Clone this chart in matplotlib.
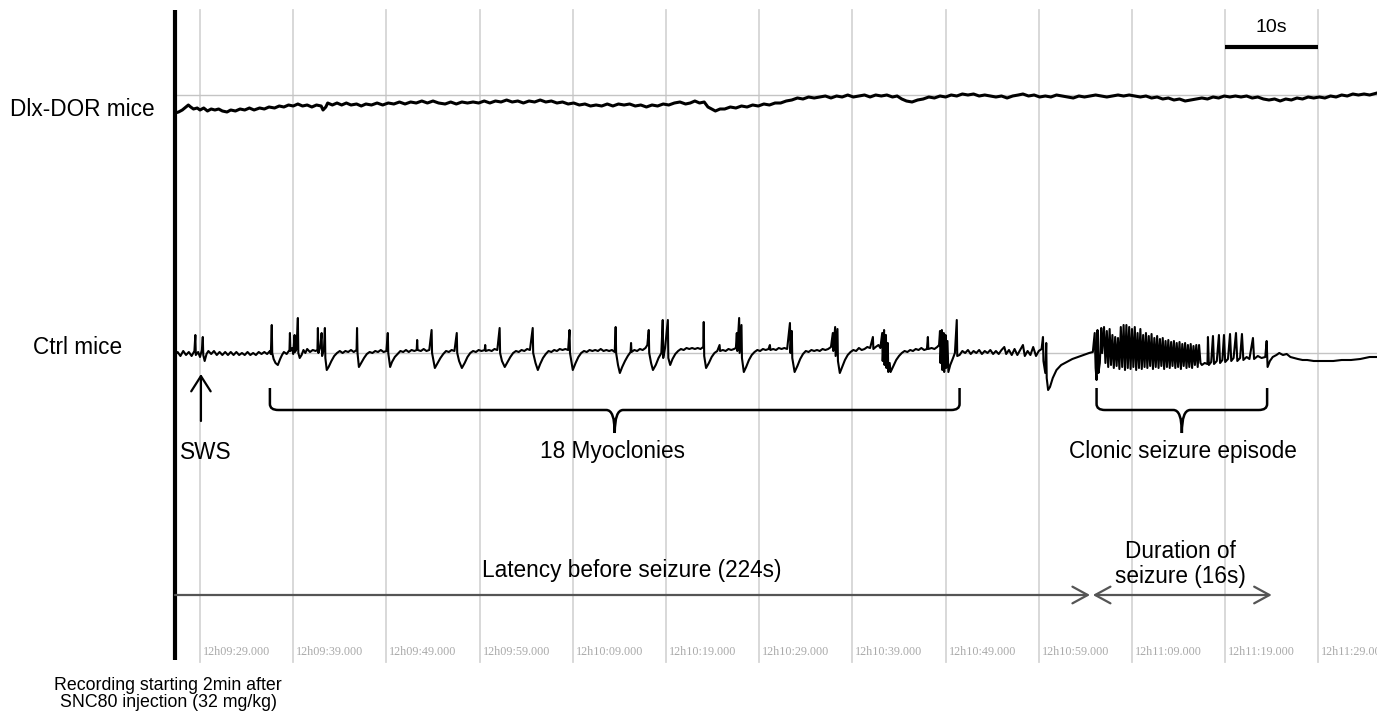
import numpy as np
import matplotlib
matplotlib.use("Agg")
import matplotlib.pyplot as plt
from matplotlib.path import Path
from matplotlib.patches import PathPatch

# time in seconds from 12h09:29.000, amplitude in trace units
dlx_points = [
    (-2.68, -18), (-2.3, -17), (-1.9, -15), (-1.5, -12), (-1.25, -10), (-1.0, -12), (-0.7, -14), (-0.3, -13),
    (0.0, -15), (0.4, -13), (0.8, -16), (1.2, -14), (1.6, -15), (2.0, -14), (2.4, -16), (2.9, -17), (3.3, -15),
    (3.8, -16), (4.3, -14), (4.8, -15), (5.3, -13), (5.8, -15), (6.4, -13), (6.9, -14), (7.4, -12), (8.0, -13),
    (8.5, -11), (9.0, -12), (9.5, -10), (10.0, -11), (10.5, -9), (11.0, -11), (11.5, -10), (12.0, -12),
    (12.5, -10), (13.0, -11), (13.2, -15), (13.5, -12), (13.7, -8), (14.2, -10), (14.7, -8), (15.2, -10),
    (15.7, -8), (16.2, -10), (16.8, -9), (17.3, -11), (17.8, -9), (18.4, -10), (19.0, -8), (19.6, -10),
    (20.2, -8), (20.8, -9), (21.4, -7), (22.0, -9), (22.6, -7), (23.2, -8), (23.8, -6), (24.4, -8), (25.0, -6),
    (25.6, -8), (26.3, -9), (26.9, -7), (27.5, -9), (28.1, -7), (28.7, -8), (29.3, -7), (29.9, -8), (30.5, -6),
    (31.1, -8), (31.7, -6), (32.3, -7), (32.9, -5), (33.5, -7), (34.1, -6), (34.7, -8), (35.3, -6), (35.9, -7),
    (36.5, -5), (37.1, -7), (37.7, -6), (38.3, -8), (38.9, -7), (39.5, -9), (40.1, -8), (40.7, -10), (41.3, -9),
    (41.9, -11), (42.5, -10), (43.1, -11), (43.7, -9), (44.3, -11), (44.9, -9), (45.5, -10), (46.1, -9),
    (46.7, -11), (47.3, -10), (47.9, -12), (48.5, -10), (49.1, -11), (49.7, -9), (50.3, -10), (50.9, -8),
    (51.5, -7), (52.1, -9), (52.6, -8), (53.1, -6), (53.6, -8), (54.1, -7), (54.5, -12), (54.9, -14),
    (55.3, -16), (55.8, -14), (56.3, -14), (56.9, -12), (57.5, -13), (58.1, -11), (58.7, -12), (59.3, -10),
    (59.9, -11), (60.5, -9), (61.1, -10), (61.7, -8), (62.3, -8), (62.9, -6), (63.5, -5), (64.1, -3),
    (64.7, -4), (65.3, -2), (65.9, -3), (66.5, -2), (67.1, -1), (67.7, -3), (68.3, -1), (68.9, -2), (69.5, 0),
    (70.1, -2), (70.7, -1), (71.3, 0), (71.9, -2), (72.5, 0), (73.1, -1), (73.7, 0), (74.3, -2), (74.8, -1),
    (75.3, -4), (75.8, -6), (76.4, -7), (77.0, -5), (77.6, -4), (78.2, -2), (78.8, -3), (79.4, -1), (80.0, -2),
    (80.6, 0), (81.2, -1), (81.8, 1), (82.4, 0), (83.0, 1), (83.6, -1), (84.2, 0), (84.8, -1), (85.4, -2),
    (86.0, -1), (86.6, -3), (87.2, -1), (87.8, 0), (88.3, 1), (88.9, -1), (89.5, 0), (90.1, -2), (90.7, -1),
    (91.3, -2), (91.9, 0), (92.5, -1), (93.1, -2), (93.7, -3), (94.3, -1), (94.9, -2), (95.5, -1), (96.1, 0),
    (96.7, -1), (97.3, -2), (97.9, -1), (98.5, 0), (99.1, -1), (99.7, 0), (100.3, -1), (100.9, -2), (101.5, -1),
    (102.1, -3), (102.7, -2), (103.3, -4), (103.9, -3), (104.5, -5), (105.1, -4), (105.7, -6), (106.3, -5),
    (106.9, -4), (107.5, -3), (108.1, -4), (108.7, -2), (109.3, -3), (109.9, -1), (110.5, -2), (111.1, -1),
    (111.7, -2), (112.3, -1), (112.9, -3), (113.5, -2), (114.1, -4), (114.7, -5), (115.3, -4), (115.9, -6),
    (116.5, -4), (117.1, -5), (117.7, -3), (118.3, -4), (118.9, -2), (119.5, -3), (120.1, -2), (120.7, -3),
    (121.3, -1), (121.9, -2), (122.5, 0), (123.1, -1), (123.7, 1), (124.3, 0), (124.9, 1), (125.5, 0), (126.3, 2),
]

ctrl_points = [
    # slow wave sleep
    (-2.68, -2), (-2.4, 1), (-2.1, -3), (-1.8, 2), (-1.5, -2), (-1.2, 1), (-0.9, -3), (-0.6, 2), (-0.5, 18),
    (-0.45, -2), (-0.2, 1), (0.0, -4), (0.2, 3), (0.3, 16), (0.35, -2), (0.5, -8), (0.7, -1), (0.9, 2),
    (1.2, -1), (1.5, 2), (1.8, -2), (2.1, 1), (2.4, -2), (2.7, 1), (3.0, -2), (3.3, 1), (3.6, -2), (3.9, 1),
    (4.2, -2), (4.5, 0), (4.8, -2), (5.1, 1), (5.4, -2), (5.7, 0), (6.0, -2), (6.3, 1), (6.6, -1), (6.9, 1),
    (7.2, -1), (7.5, 2),
    # myoclonies
    (7.6, -1), (7.7, 28), (7.75, 0), (7.9, -6), (8.1, -10), (8.35, -12), (8.6, -6), (8.8, -2), (9.0, 1),
    (9.3, -1), (9.6, 3), (9.65, 20), (9.7, 2), (9.9, 5), (10.0, -1), (10.15, 18), (10.2, 1), (10.35, 4),
    (10.5, 35), (10.55, 0), (10.7, -5), (10.9, -2), (11.1, 3), (11.3, 0), (11.5, 4), (11.8, 1), (12.1, 3),
    (12.4, 2), (12.6, 3), (12.65, 25), (12.7, 0), (12.9, 6), (13.05, 20), (13.1, -3), (13.3, 4), (13.4, 25),
    (13.45, -5), (13.6, -17), (13.8, -14), (14.1, -8), (14.4, -3), (14.7, 0), (15.0, 2), (15.3, 0), (15.6, 2),
    (15.9, 1), (16.2, 3), (16.5, 1), (16.8, 3), (16.85, 25), (16.9, 0), (17.05, -14), (17.3, -10), (17.6, -5),
    (17.9, -1), (18.2, 1), (18.5, 0), (18.8, 2), (19.1, 1), (19.4, 3), (19.7, 1), (20.0, 2), (20.15, 20),
    (20.2, 0), (20.4, -14), (20.6, -9), (20.9, -4), (21.2, -1), (21.5, 2), (21.8, 1), (22.1, 3), (22.4, 1),
    (22.7, 3), (23.0, 2), (23.25, 3), (23.3, 13), (23.35, 3), (23.7, 2), (24.0, 4), (24.3, 2), (24.6, 3),
    (24.85, 23), (24.9, 0), (25.2, -15), (25.5, -10), (25.8, -5), (26.1, -1), (26.4, 2), (26.7, 1), (27.0, 3),
    (27.3, 2), (27.55, 20), (27.6, 0), (27.8, -8), (28.1, -15), (28.4, -10), (28.7, -4), (29.0, 0), (29.3, 2),
    (29.6, 1), (29.9, 3), (30.2, 2), (30.55, 3), (30.6, 8), (30.65, 2), (31.0, 3), (31.3, 2), (31.6, 4),
    (31.9, 3), (32.15, 25), (32.2, 0), (32.4, -8), (32.7, -14), (33.0, -9), (33.3, -4), (33.6, 0), (33.9, 2),
    (34.2, 1), (34.5, 3), (34.8, 2), (35.1, 4), (35.4, 3), (35.7, 25), (35.75, 0), (36.0, -10), (36.25, -17),
    (36.5, -11), (36.8, -5), (37.1, -1), (37.4, 2), (37.7, 1), (38.0, 3), (38.3, 2), (38.6, 4), (38.9, 3),
    (39.2, 4), (39.5, 3), (39.65, 23), (39.7, 0), (40.0, -17), (40.3, -10), (40.6, -4), (40.9, 0), (41.2, 2),
    (41.5, 1), (41.8, 3), (42.1, 2), (42.4, 3), (42.7, 2), (43.0, 4), (43.3, 2), (43.6, 3), (43.9, 2),
    (44.2, 3), (44.5, 1), (44.6, 26), (44.65, 0), (44.85, -12), (45.05, -20), (45.3, -14), (45.6, -8),
    (45.9, -3), (46.2, 1), (46.25, 10), (46.3, 1), (46.6, 3), (46.9, 2), (47.2, 4), (47.5, 3), (47.8, 5),
    (48.0, 8), (48.15, 23), (48.2, 0), (48.4, -10), (48.6, -17), (48.9, -12), (49.2, -5), (49.5, 0),
    (49.65, 33), (49.7, -5), (49.9, 5), (50.2, 33), (50.25, -5), (50.45, -12), (50.7, -6), (51.0, -1),
    (51.3, 2), (51.6, 4), (51.9, 3), (52.2, 5), (52.5, 4), (52.8, 5), (53.1, 4), (53.4, 5), (53.7, 4),
    (54.0, 6), (54.05, 31), (54.1, -3), (54.3, -15), (54.6, -10), (54.9, -4), (55.2, 0), (55.5, 2),
    (55.75, 8), (55.8, 2), (56.1, 3), (56.4, 2), (56.7, 4), (57.0, 3), (57.3, 4), (57.5, 5), (57.6, 20),
    (57.65, 2), (57.85, 35), (57.9, 0), (58.1, 28), (58.15, -5), (58.35, -19), (58.6, -14), (58.9, -7),
    (59.2, -2), (59.5, 1), (59.8, 3), (60.1, 2), (60.4, 4), (60.7, 3), (61.0, 4), (61.15, 8), (61.2, 3),
    (61.5, 4), (61.8, 3), (62.1, 5), (62.4, 4), (62.7, 5), (63.0, 4), (63.3, 30), (63.35, 0), (63.5, 22),
    (63.55, -5), (63.8, -19), (64.1, -13), (64.4, -6), (64.7, -1), (65.0, 2), (65.3, 1), (65.6, 3), (65.9, 2),
    (66.2, 3), (66.5, 2), (66.8, 4), (67.1, 3), (67.4, 4), (67.7, 6), (67.9, 20), (67.95, 2), (68.15, 26),
    (68.2, -3), (68.4, 24), (68.45, -8), (68.65, -20), (68.9, -14), (69.2, -7), (69.5, -2), (69.8, 1),
    (70.1, 3), (70.4, 2), (70.7, 5), (71.0, 3), (71.3, 4), (71.6, 6), (71.9, 5), (72.2, 16), (72.25, 4),
    (72.5, 6), (72.8, 8), (73.0, 5), (73.2, 20), (73.25, -8), (73.4, 23), (73.45, -12), (73.6, 18),
    (73.65, -15), (73.8, 10), (73.85, -19), (74.0, -10), (74.1, -19), (74.4, -13), (74.7, -7), (75.0, -3),
    (75.3, 0), (75.6, 2), (75.9, 1), (76.2, 3), (76.5, 2), (76.8, 4), (77.1, 3), (77.4, 5), (77.7, 3),
    (78.0, 4), (78.1, 16), (78.15, 4), (78.5, 5), (78.8, 4), (79.1, 6), (79.3, 8), (79.4, 22), (79.45, -10),
    (79.6, 23), (79.65, -17), (79.8, 20), (79.85, -19), (80.0, 18), (80.05, -15), (80.2, 12), (80.3, -19),
    (80.5, -12), (80.8, -5), (81.0, 0), (81.2, 33), (81.25, -3), (81.5, -2), (81.8, 2), (82.1, 0), (82.4, 3),
    (82.7, -1), (83.0, 2), (83.3, 0), (83.6, 3), (83.9, -1), (84.2, 2), (84.5, 0), (84.8, 3), (85.1, -1),
    (85.4, 2), (85.7, -1), (86.0, 3), (86.3, 6), (86.5, -1), (86.8, 3), (87.1, -2), (87.4, 4), (87.7, -2),
    (88.0, 3), (88.3, 8), (88.5, -3), (88.8, 2), (89.1, -2), (89.4, 6), (89.7, -3), (90.0, 2), (90.3, 4),
    (90.45, 16), (90.5, -8), (90.7, -20), (90.8, 10), (90.85, -25), (91.0, -37), (91.2, -34), (91.5, -25),
    (91.9, -17), (92.4, -12), (93.0, -9), (93.6, -6), (94.2, -4), (94.8, -2), (95.4, 0), (95.8, 1),
    # clonic seizure
    (96.0, 20), (96.1, -15), (96.2, -27), (96.3, 23), (96.4, -20), (96.55, -10), (96.7, 25), (96.8, 0),
    (97.0, 26), (97.15, -10), (97.3, 22), (97.45, -14), (97.6, 24), (97.75, -12), (97.9, 18), (98.05, -15),
    (98.2, 16), (98.35, -13), (98.5, 15), (98.65, -16), (98.8, 26), (98.95, -14), (99.1, 28), (99.25, -17),
    (99.4, 28), (99.55, -15), (99.7, 26), (99.85, -16), (100.0, 24), (100.15, -14), (100.3, 26), (100.45, -17),
    (100.6, 20), (100.75, -15), (100.9, 24), (101.05, -16), (101.2, 18), (101.35, -14), (101.5, 20),
    (101.65, -15), (101.8, 17), (101.95, -13), (102.1, 19), (102.25, -16), (102.4, 15), (102.55, -14),
    (102.7, 17), (102.85, -15), (103.0, 14), (103.15, -13), (103.3, 15), (103.45, -16), (103.6, 12),
    (103.75, -14), (103.9, 13), (104.05, -15), (104.2, 11), (104.35, -13), (104.5, 12), (104.65, -15),
    (104.8, 10), (104.95, -14), (105.1, 11), (105.25, -16), (105.4, 9), (105.55, -13), (105.7, 10),
    (105.85, -15), (106.0, 8), (106.15, -14), (106.3, 9), (106.45, -15), (106.6, 7), (106.75, -12),
    (106.9, 8), (107.05, -14), (107.2, 8), (107.35, -10), (107.5, -12), (107.8, -10), (108.1, -11),
    (108.15, 16), (108.25, -12), (108.5, -9), (108.69, 17), (108.8, -11), (109.1, -8), (109.33, 18),
    (109.45, -10), (109.7, -7), (109.87, 18), (110.0, -9), (110.3, -6), (110.52, 19), (110.65, -8),
    (110.9, -5), (111.16, 20), (111.3, -8), (111.6, -5), (111.8, 19), (111.95, -7), (112.3, -4), (112.6, -6),
    (112.98, 15), (113.1, -6), (113.5, -3), (113.9, -5), (114.3, -4), (114.45, 12), (114.55, -14),
    # post-ictal
    (114.8, -8), (115.1, -4), (115.5, -2), (115.8, 0), (116.2, -2), (116.6, -1), (117.0, -4), (117.4, -5),
    (117.8, -6), (118.3, -7), (118.8, -7), (119.5, -8), (120.3, -8), (121.0, -8), (121.6, -8), (122.5, -7),
    (123.5, -7), (124.5, -6), (125.5, -4), (126.3, -4),
]

grid_times = [0, 10, 20, 30, 40, 50, 60, 70, 80, 90, 100, 110, 120]
tick_labels = ["12h09:29.000", "12h09:39.000", "12h09:49.000", "12h09:59.000", "12h10:09.000",
               "12h10:19.000", "12h10:29.000", "12h10:39.000", "12h10:49.000", "12h10:59.000",
               "12h11:09.000", "12h11:19.000", "12h11:29.000"]

rec_start = -2.68
rec_end = 126.3
myoclonies_span = (7.5, 81.5)
seizure_span = (96.2, 114.5)
latency_span = (rec_start, 95.5)
duration_span = (95.8, 115.0)
scale_bar = (110, 120)
sws_time = 0.1

W, H = 1377, 716
fig = plt.figure(figsize=(W / 100, H / 100), dpi=100)
ax = fig.add_axes([0, 0, 1, 1])
ax.set_xlim(-21.46, 126.29)
ax.set_ylim(0, H)
ax.axis("off")

font = "Liberation Sans"


def py(p):
    # pixel row (from top) -> y data
    return H - p


# grid
for t in grid_times:
    ax.plot([t, t], [py(662), py(10)], color="#d6d6d6", lw=1.3, zorder=0)
for t, lab in zip(grid_times, tick_labels):
    ax.text(t + 0.3, py(652), lab, ha="left", va="center", fontsize=8.7,
            family="Liberation Serif", color="#a9a9a9")

dlx_base = py(95)
ctrl_base = py(353)
ax.plot([rec_start, rec_end], [dlx_base, dlx_base], color="#c4c4c4", lw=1, zorder=1)
ax.plot([rec_start, rec_end], [ctrl_base, ctrl_base], color="#c4c4c4", lw=1, zorder=1)

# left axis line
ax.plot([rec_start, rec_start], [py(660), py(10)], color="black", lw=3, zorder=3,
        solid_capstyle="butt")

dlx_t, dlx_v = zip(*dlx_points)
ctrl_t, ctrl_v = zip(*ctrl_points)
ax.plot(dlx_t, dlx_base + np.array(dlx_v), color="black", lw=2.2, zorder=2)
ax.plot(ctrl_t, ctrl_base + np.array(ctrl_v), color="black", lw=1.5, zorder=2)

# scale bar
ax.plot(scale_bar, [py(47), py(47)], color="black", lw=3, solid_capstyle="butt")
ax.text(np.mean(scale_bar), py(28), "10s", ha="center", va="center", fontsize=14, family=font)

# SWS arrow
ax.annotate("", xy=(sws_time, py(374)), xytext=(sws_time, py(421)),
            arrowprops=dict(arrowstyle="->,head_length=0.55,head_width=0.35", lw=1.6,
                            color="black", shrinkA=0, shrinkB=0, mutation_scale=20))


def brace(x0, x1, top, mid, tip, dx=0.9):
    xc = (x0 + x1) / 2
    verts = [(x0, top), (x0, mid + 6), (x0, mid), (x0 + dx, mid), (xc - dx, mid), (xc, mid), (xc, tip),
             (xc, mid), (xc + dx, mid), (x1 - dx, mid), (x1, mid), (x1, mid + 6), (x1, top)]
    codes = [Path.MOVETO, Path.LINETO, Path.CURVE3, Path.CURVE3, Path.LINETO, Path.CURVE3, Path.CURVE3,
             Path.CURVE3, Path.CURVE3, Path.LINETO, Path.CURVE3, Path.CURVE3, Path.LINETO]
    ax.add_patch(PathPatch(Path(verts, codes), fill=False, lw=1.8, ec="black"))


brace(*myoclonies_span, py(388), py(410), py(433))
brace(*seizure_span, py(388), py(410), py(433))

# latency / duration arrows
arrow_kw = dict(lw=1.6, color="#555555", shrinkA=0, shrinkB=0, mutation_scale=20)
ax.annotate("", xy=(latency_span[1], py(595)), xytext=(latency_span[0], py(595)),
            arrowprops=dict(arrowstyle="->,head_length=0.55,head_width=0.3", **arrow_kw))
ax.annotate("", xy=(duration_span[1], py(595)), xytext=(duration_span[0], py(595)),
            arrowprops=dict(arrowstyle="<->,head_length=0.55,head_width=0.3", **arrow_kw))

fs = 16.3
fig.text(82 / W, 1 - 110 / H, "Dlx-DOR mice", ha="center", va="center", fontsize=fs, family=font)
fig.text(78 / W, 1 - 348 / H, "Ctrl mice", ha="center", va="center", fontsize=fs, family=font)
fig.text(206 / W, 1 - 453 / H, "SWS", ha="center", va="center", fontsize=fs, family=font)
fig.text(613 / W, 1 - 452 / H, "18 Myoclonies", ha="center", va="center", fontsize=fs, family=font)
fig.text(1183 / W, 1 - 452 / H, "Clonic seizure episode", ha="center", va="center", fontsize=fs, family=font)
fig.text(632 / W, 1 - 571 / H, "Latency before seizure (224s)", ha="center", va="center", fontsize=fs,
         family=font)
fig.text(1180 / W, 1 - 564 / H, "Duration of\nseizure (16s)", ha="center", va="center", fontsize=fs,
         family=font, linespacing=1.1)
fig.text(168 / W, 1 - 694 / H, "Recording starting 2min after\nSNC80 injection (32 mg/kg)", ha="center",
         va="center", fontsize=12.8, family=font, linespacing=1.05)

fig.savefig("out.png", dpi=100)
